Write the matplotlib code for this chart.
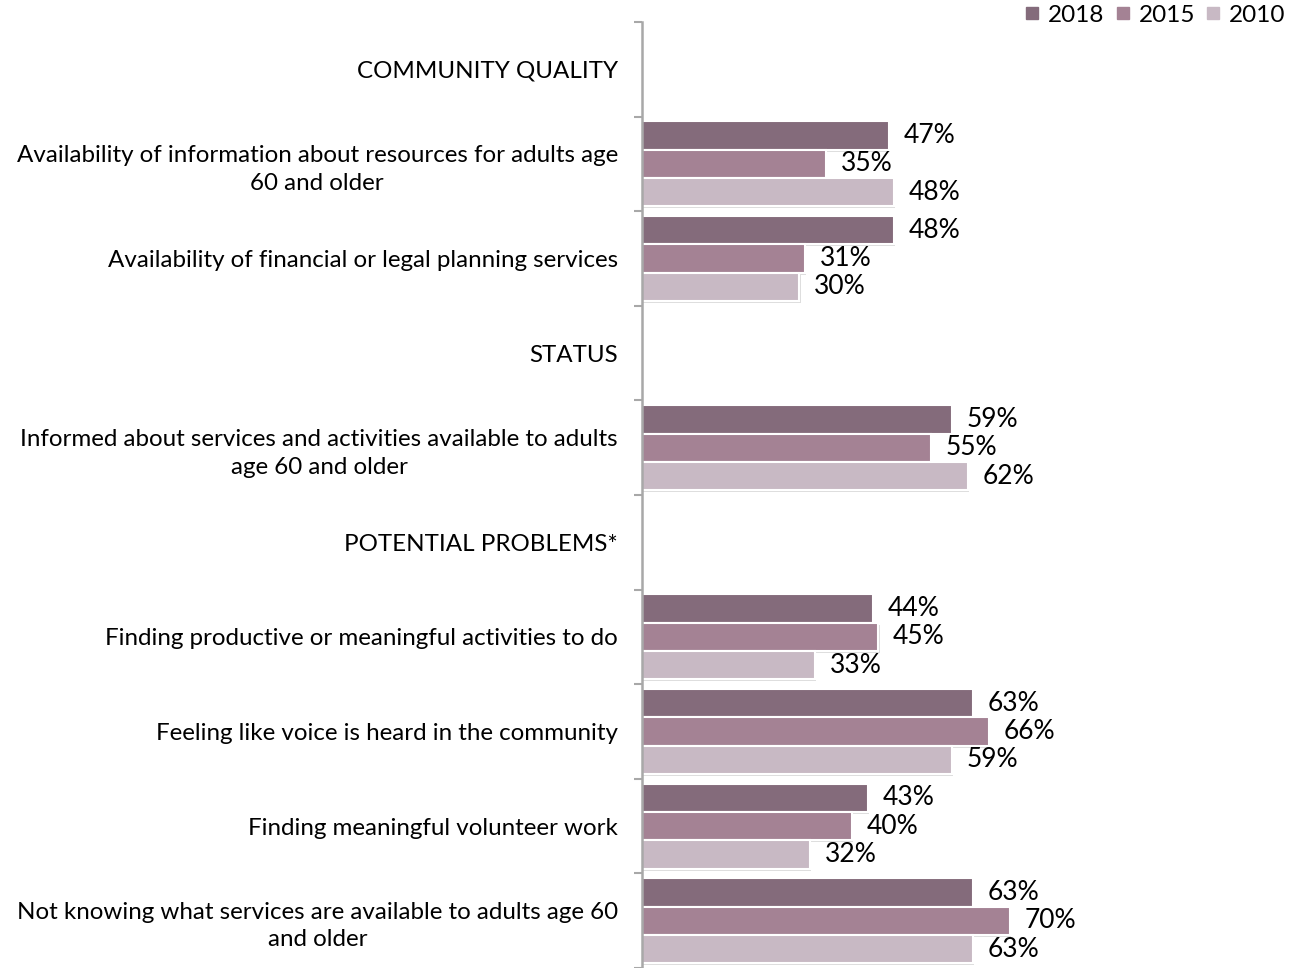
import numpy as np
import matplotlib
matplotlib.use('Agg')
from matplotlib import pyplot as plt
from matplotlib.lines import Line2D

plt.rcParams['font.family'] = ['Lato', 'DejaVu Sans']

labels = [
    'COMMUNITY QUALITY',
    'Availability of information about resources for adults age\n60 and older',
    'Availability of financial or legal planning services',
    'STATUS',
    'Informed about services and activities available to adults\nage 60 and older',
    'POTENTIAL PROBLEMS*',
    'Finding productive or meaningful activities to do',
    'Feeling like voice is heard in the community',
    'Finding meaningful volunteer work',
    'Not knowing what services are available to adults age 60\nand older',
]
nan = np.nan
v2018 = [nan, 47, 48, nan, 59, nan, 44, 63, 43, 63]
v2015 = [nan, 35, 31, nan, 55, nan, 45, 66, 40, 70]
v2010 = [nan, 48, 30, nan, 62, nan, 33, 59, 32, 63]
years = ['2018', '2015', '2010']
colors = ['#846b7b', '#a48294', '#c8b9c4']

W, H = 1300, 968
fig = plt.figure(figsize=(W / 100, H / 100), dpi=100)
x0 = 641.5
ax = fig.add_axes([x0 / W, 0, (W - x0) / W, (H - 22) / H])

y = np.arange(len(labels))
bh = 0.3
for k, (vals, c) in enumerate(zip([v2018, v2015, v2010], colors)):
    yy = y + (k - 1) * bh
    v = np.array(vals, dtype=float)
    m = ~np.isnan(v)
    # faint shadow
    ax.barh(yy[m] + 0.02, v[m] + 0.25, height=bh, color='#dddddd', zorder=1)
    ax.barh(yy[m], v[m], height=bh, color=c, edgecolor='white', linewidth=1.5, zorder=2)
    for yi, vi in zip(yy[m], v[m]):
        ax.annotate(f'{vi:.0f}%', (vi, yi), xytext=(15, 0), textcoords='offset pixels',
                    va='center', ha='left', fontsize=19, color='black')

ax.set_xlim(0, (W - x0) / 5.26)
ax.set_ylim(len(labels) - 0.5, -0.5)

for s in ['top', 'right', 'bottom']:
    ax.spines[s].set_visible(False)
ax.spines['left'].set_color('#a8a8a8')
ax.spines['left'].set_linewidth(1.8)
ax.set_xticks([])
ax.set_yticks(y)
ax.set_yticklabels(labels, fontsize=17.4, multialignment='center', linespacing=1.4)
ax.set_yticks(np.arange(len(labels) + 1) - 0.5, minor=True)
ax.tick_params(axis='y', which='major', length=0, pad=17)
ax.tick_params(axis='y', which='minor', length=6, width=1.5, color='#a8a8a8')

handles = [Line2D([], [], marker='s', ls='', color=c, markersize=8) for c in colors]
fig.legend(handles, years, loc='upper right', bbox_to_anchor=(1.0, 1.01), ncol=3,
           frameon=False, fontsize=17.5, handlelength=0.6, handletextpad=0.35,
           columnspacing=0.45, borderaxespad=0.2)

fig.savefig('out.png', dpi=100)
